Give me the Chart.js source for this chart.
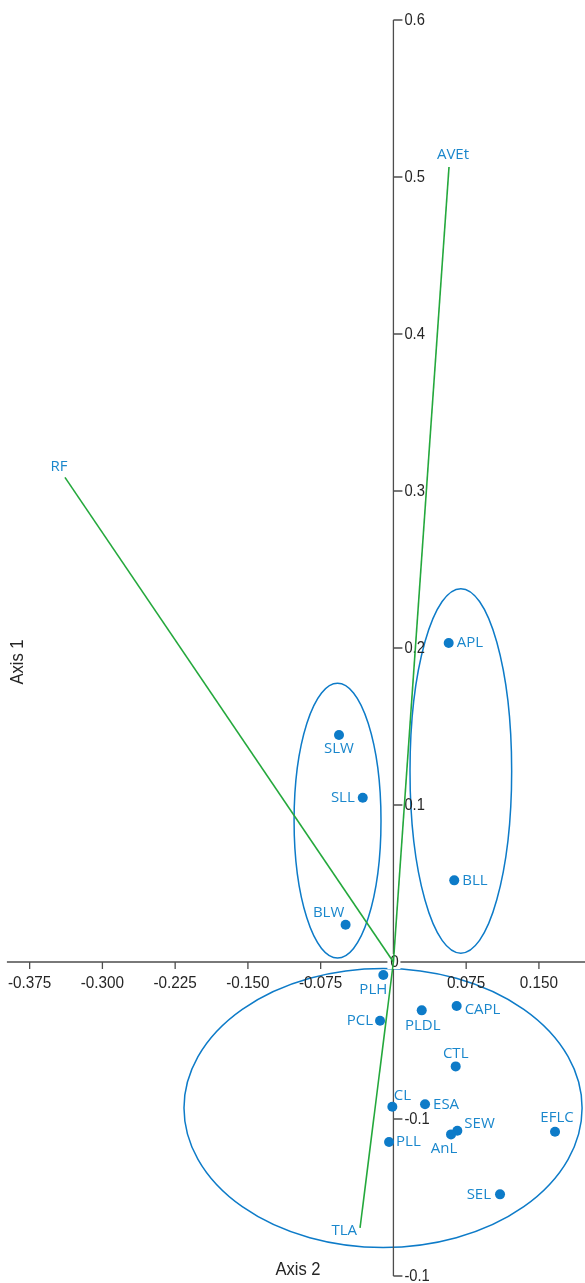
<!DOCTYPE html>
<html>
<head>
<meta charset="utf-8">
<script src="https://cdn.jsdelivr.net/npm/chart.js@4.4.1/dist/chart.umd.min.js"></script>
<style>
  html, body { margin: 0; padding: 0; background: #ffffff; }
  #wrap { width: 585px; height: 1283px; }
  canvas { display: block; }
</style>
</head>
<body>
<div id="wrap"><canvas id="biplot" width="585" height="1283"></canvas></div>
<script>
// Trait scores: Axis 2 is horizontal, Axis 1 is vertical
const traitNames   = ['APL', 'BLL', 'SLW', 'SLL', 'BLW', 'PLH', 'PCL', 'PLDL', 'CAPL', 'CTL', 'CL', 'ESA', 'SEW', 'AnL', 'EFLC', 'PLL', 'SEL'];
const traitAxis2   = [0.0570, 0.0627, -0.0561, -0.0316, -0.0493, -0.0104, -0.0138, 0.0292, 0.0652, 0.0642, -0.0011, 0.0326, 0.0659, 0.0594, 0.1666, -0.0045, 0.1099];
const traitAxis1   = [0.2032, 0.0520, 0.1446, 0.1046, 0.0237, -0.0083, -0.0374, -0.0308, -0.0280, -0.0665, -0.0922, -0.0906, -0.1075, -0.1098, -0.1081, -0.1146, -0.1480];

// Environmental vectors (drawn from the origin)
const vectorNames  = ['AVEt', 'RF', 'TLA'];
const vectorAxis2  = [0.0573, -0.3386, -0.0344];
const vectorAxis1  = [0.5064, 0.3087, -0.1694];

// Group ellipses: centres and semi-axes in axis units
const groupCentre2 = [-0.0576, 0.0695, -0.0107];
const groupCentre1 = [0.0900, 0.1217, -0.0930];
const groupRadius2 = [0.0448, 0.0524, 0.2052];
const groupRadius1 = [0.0875, 0.1161, 0.0889];

// Axis ticks
const axis2Ticks      = [-0.375, -0.300, -0.225, -0.150, -0.075, 0.075, 0.150];
const axis2TickLabels = ['-0.375', '-0.300', '-0.225', '-0.150', '-0.075', '0.075', '0.150'];
const axis1Ticks      = [0.6, 0.5, 0.4, 0.3, 0.2, 0.1, -0.1, -0.2];
const axis1TickLabels = ['0.6', '0.5', '0.4', '0.3', '0.2', '0.1', '-0.1', '-0.1'];

const BLUE = '#0d7bc8';
const LABEL_BLUE = '#1a87cc';
const GREEN = '#24a83c';
const AXIS = '#4d4d4d';

// Label placement around each marker: [dx, dy, textAlign]
const traitLabelPlacement = {
  APL: [8, 0, 'left'],   BLL: [8, 0, 'left'],   SLW: [0, 14, 'center'],
  SLL: [-8, 0, 'right'], BLW: [-17, -12, 'center'], PLH: [-10, 15, 'center'],
  PCL: [-7, 0, 'right'], PLDL: [1, 15, 'center'], CAPL: [8, 4, 'left'],
  CTL: [0, -13, 'center'], CL: [10, -11, 'center'], ESA: [8, 0, 'left'],
  SEW: [7, -7, 'left'],  AnL: [-7, 14, 'center'], EFLC: [2, -14, 'center'],
  PLL: [7, 0, 'left'],   SEL: [-9, 0, 'right']
};
const vectorLabelPlacement = {
  AVEt: [4, -12, 'center'], RF: [-6, -11, 'center'], TLA: [-3, 3, 'right']
};

function drawText(ctx, text, x, y, align, font, color, squeeze) {
  ctx.save();
  ctx.translate(x, y);
  ctx.scale(squeeze || 1, 1);
  ctx.font = font;
  ctx.fillStyle = color;
  ctx.textAlign = align;
  ctx.textBaseline = 'middle';
  ctx.fillText(text, 0, 0);
  ctx.restore();
}

const biplotDecor = {
  id: 'biplotDecor',
  beforeDatasetsDraw(chart) {
    const ctx = chart.ctx;
    const X = chart.scales.x, Y = chart.scales.y;
    const ox = X.getPixelForValue(0), oy = Y.getPixelForValue(0);

    // group ellipses
    ctx.save();
    ctx.strokeStyle = BLUE;
    ctx.lineWidth = 1.5;
    for (let i = 0; i < groupCentre2.length; i++) {
      const cx = X.getPixelForValue(groupCentre2[i]);
      const cy = Y.getPixelForValue(groupCentre1[i]);
      const rx = Math.abs(X.getPixelForValue(groupCentre2[i] + groupRadius2[i]) - cx);
      const ry = Math.abs(Y.getPixelForValue(groupCentre1[i] + groupRadius1[i]) - cy);
      ctx.beginPath();
      ctx.ellipse(cx, cy, rx, ry, 0, 0, Math.PI * 2);
      ctx.stroke();
    }
    ctx.restore();

    // axes crossing at the origin
    ctx.save();
    ctx.strokeStyle = AXIS;
    ctx.lineWidth = 1.3;
    ctx.beginPath();
    ctx.moveTo(X.left + 1.5, oy);
    ctx.lineTo(X.right, oy);
    ctx.moveTo(ox, Y.getPixelForValue(axis1Ticks[0]));
    ctx.lineTo(ox, Y.getPixelForValue(axis1Ticks[axis1Ticks.length - 1]));
    axis2Ticks.forEach(v => {
      const px = X.getPixelForValue(v);
      ctx.moveTo(px, oy);
      ctx.lineTo(px, oy + 7);
    });
    axis1Ticks.forEach(v => {
      const py = Y.getPixelForValue(v);
      ctx.moveTo(ox, py);
      ctx.lineTo(ox + 9, py);
    });
    ctx.stroke();
    ctx.restore();

    axis2Ticks.forEach((v, i) => {
      drawText(ctx, axis2TickLabels[i], X.getPixelForValue(v), oy + 21, 'center',
        '17px "Liberation Sans", Arial, sans-serif', '#262626', 0.9);
    });
    axis1Ticks.forEach((v, i) => {
      drawText(ctx, axis1TickLabels[i], ox + 11, Y.getPixelForValue(v) + 0.5, 'left',
        '16px "Liberation Sans", Arial, sans-serif', '#262626', 0.92);
    });

    // origin label
    ctx.save();
    ctx.fillStyle = '#ffffff';
    ctx.fillRect(ox - 6, oy - 8, 13, 15);
    ctx.restore();
    drawText(ctx, '0', ox + 1, oy, 'center', '17px "Liberation Sans", Arial, sans-serif', '#262626', 0.9);

    // axis titles
    ctx.save();
    ctx.translate(18, (Y.top + Y.bottom) / 2 + 14);
    ctx.rotate(-Math.PI / 2);
    drawText(ctx, 'Axis 1', 0, 0, 'center', '18px "Liberation Sans", Arial, sans-serif', '#262626', 0.92);
    ctx.restore();
    drawText(ctx, 'Axis 2', 298, Y.bottom - 6, 'center', '18px "Liberation Sans", Arial, sans-serif', '#262626', 0.92);
  },
  afterDatasetsDraw(chart) {
    const ctx = chart.ctx;
    const X = chart.scales.x, Y = chart.scales.y;
    const font = '15px "Open Sans", "Noto Sans", sans-serif';
    traitNames.forEach((name, i) => {
      const p = traitLabelPlacement[name];
      drawText(ctx, name, X.getPixelForValue(traitAxis2[i]) + p[0], Y.getPixelForValue(traitAxis1[i]) + p[1],
        p[2], font, LABEL_BLUE, 1);
    });
    vectorNames.forEach((name, i) => {
      const p = vectorLabelPlacement[name];
      drawText(ctx, name, X.getPixelForValue(vectorAxis2[i]) + p[0], Y.getPixelForValue(vectorAxis1[i]) + p[1],
        p[2], font, LABEL_BLUE, 1);
    });
  }
};

const vectorDatasets = vectorNames.map((name, i) => ({
  label: name,
  data: [{ x: 0, y: 0 }, { x: vectorAxis2[i], y: vectorAxis1[i] }],
  showLine: true,
  borderColor: GREEN,
  borderWidth: 1.6,
  pointRadius: 0,
  fill: false,
  order: 2
}));

new Chart(document.getElementById('biplot'), {
  type: 'scatter',
  data: {
    datasets: [
      ...vectorDatasets,
      {
        label: 'Traits',
        data: traitNames.map((n, i) => ({ x: traitAxis2[i], y: traitAxis1[i] })),
        backgroundColor: BLUE,
        borderWidth: 0,
        pointRadius: 5,
        order: 1
      }
    ]
  },
  options: {
    responsive: false,
    animation: false,
    devicePixelRatio: 1,
    layout: { autoPadding: false, padding: { left: 5.4, right: 0, top: 20, bottom: 7 } },
    scales: {
      x: { type: 'linear', min: -0.4, max: 0.1975, display: false },
      y: { type: 'linear', min: -0.2, max: 0.6, display: false }
    },
    plugins: {
      legend: { display: false },
      tooltip: { enabled: false }
    }
  },
  plugins: [biplotDecor]
});
</script>
</body>
</html>
